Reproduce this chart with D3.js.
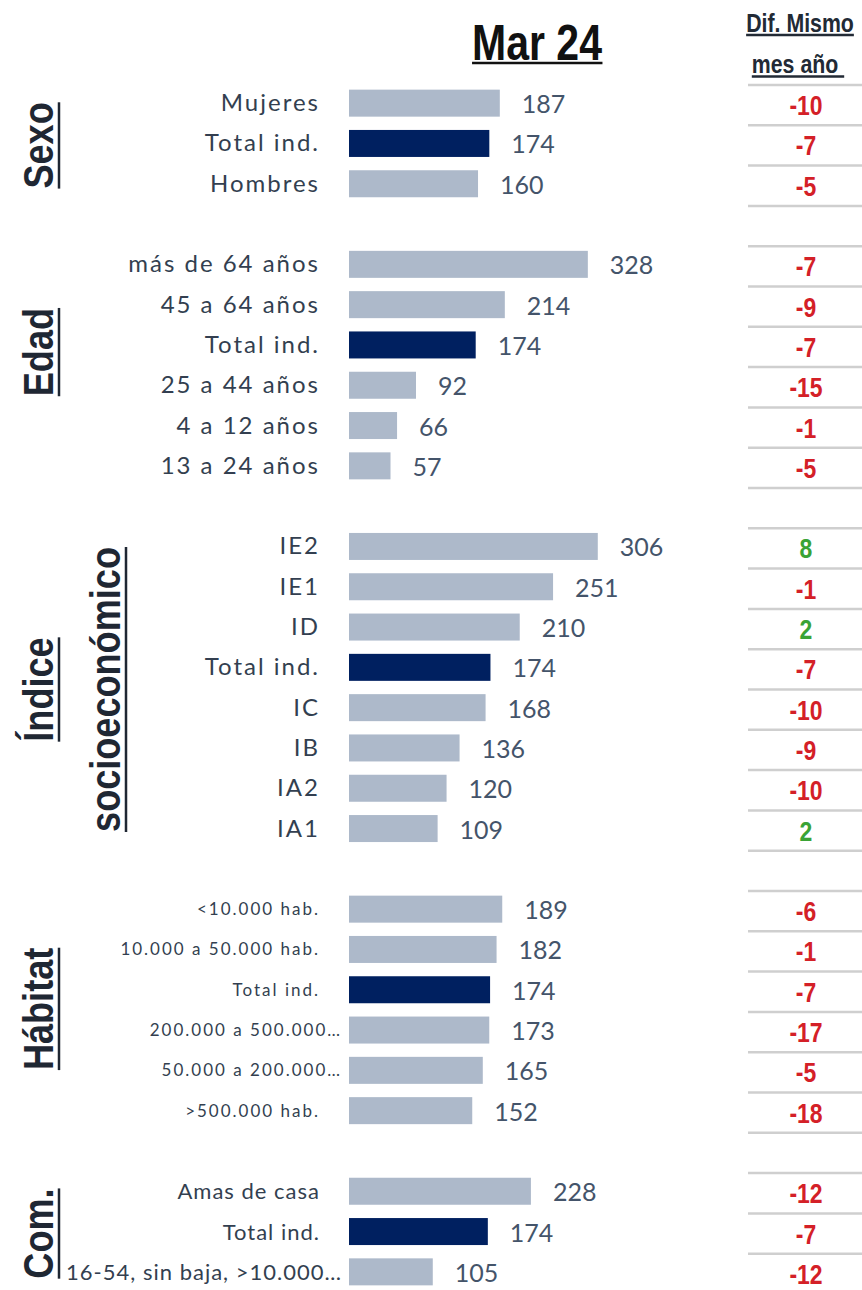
<!DOCTYPE html>
<html>
<head>
<meta charset="utf-8">
<script src="https://cdn.jsdelivr.net/npm/d3@7"></script>
<style>
  body { margin: 0; background: #fff; }
  .narrow { font-family: "Liberation Sans", Arial, sans-serif; }
  .soft { font-family: Lato, "Open Sans", sans-serif; }
</style>
</head>
<body>
<div id="chart"></div>
<script>
// datos por bloque (Mar 24)
const grupos = ["Sexo", "Edad", "Índice socioeconómico", "Hábitat", "Com."];

const sexoCats = ["Mujeres", "Total ind.", "Hombres"];
const sexoVals = [187, 174, 160];
const sexoDif  = [-10, -7, -5];

const edadCats = ["más de 64 años", "45 a 64 años", "Total ind.", "25 a 44 años", "4 a 12 años", "13 a 24 años"];
const edadVals = [328, 214, 174, 92, 66, 57];
const edadDif  = [-7, -9, -7, -15, -1, -5];

const indiceCats = ["IE2", "IE1", "ID", "Total ind.", "IC", "IB", "IA2", "IA1"];
const indiceVals = [306, 251, 210, 174, 168, 136, 120, 109];
const indiceDif  = [8, -1, 2, -7, -10, -9, -10, 2];

const habitatCats = ["<10.000 hab.", "10.000 a 50.000 hab.", "Total ind.", "200.000 a 500.000…", "50.000 a 200.000…", ">500.000 hab."];
const habitatVals = [189, 182, 174, 173, 165, 152];
const habitatDif  = [-6, -1, -7, -17, -5, -18];

const comCats = ["Amas de casa", "Total ind.", "16-54, sin baja, >10.000…"];
const comVals = [228, 174, 105];
const comDif  = [-12, -7, -12];

// máximo del eje de cada gráfico original
const ejeMax = [372, 412, 369, 370, 376];

const width = 862, height = 1290;
const rowStep = 40.3, rowTop = 85;
const barX0 = 349, barW = 300;
const estrecho = 0.82; // simula Arial Narrow

const svg = d3.select("#chart").append("svg")
  .attr("width", width)
  .attr("height", height);

// filas: cada bloque + una fila vacía de separación
const bloques = [
  [sexoCats, sexoVals, sexoDif],
  [edadCats, edadVals, edadDif],
  [indiceCats, indiceVals, indiceDif],
  [habitatCats, habitatVals, habitatDif],
  [comCats, comVals, comDif]
];
const filas = [];
const rangos = [];
let idx = 0;
bloques.forEach(([cats, vals, difs], g) => {
  const ini = idx;
  cats.forEach((c, i) => {
    filas.push({ g, cat: c, val: vals[i], dif: difs[i], idx, total: c === "Total ind." });
    idx++;
  });
  rangos.push([ini, idx - 1]);
  idx++;
});
const nFilas = idx - 1;

const rowY = d3.scaleLinear().domain([0, nFilas]).range([rowTop, rowTop + nFilas * rowStep]);
const y = d3.scaleBand()
  .domain(d3.range(nFilas))
  .range([rowTop - 2, rowTop - 2 + nFilas * rowStep])
  .paddingInner(0.33)
  .paddingOuter(0.165);

const xs = ejeMax.map(m => d3.scaleLinear().domain([0, m]).range([barX0, barX0 + barW]));

// barras
svg.append("g").selectAll("rect")
  .data(filas)
  .join("rect")
  .attr("x", d => xs[d.g](0))
  .attr("y", d => y(d.idx))
  .attr("width", d => xs[d.g](d.val) - xs[d.g](0))
  .attr("height", y.bandwidth())
  .attr("fill", d => d.total ? "#002060" : "#adb9ca");

// valores
svg.append("g").selectAll("text")
  .data(filas)
  .join("text")
  .attr("class", "soft")
  .attr("x", d => xs[d.g](d.val) + 22)
  .attr("y", d => y(d.idx) + y.bandwidth() / 2 + 10)
  .attr("font-size", 25)
  .attr("fill", "#44546a")
  .text(d => d.val);

// etiquetas de categoría
svg.append("g").selectAll("text")
  .data(filas)
  .join("text")
  .attr("class", "soft")
  .attr("x", d => d.cat.endsWith("…") ? 342 : 320)
  .attr("y", d => y(d.idx) + y.bandwidth() / 2 + (d.g === 3 ? 6 : 8))
  .attr("text-anchor", "end")
  .attr("font-size", d => d.g === 3 ? 17 : (d.g === 4 ? 22 : 24))
  .attr("letter-spacing", d => d.g === 4 ? 1 : 2)
  .attr("fill", "#333f50")
  .text(d => d.cat);

// columna derecha: líneas grises
const lineas = [];
rangos.forEach(([a, b]) => { for (let i = a; i <= b + 1; i++) lineas.push(i); });
svg.append("g").selectAll("line")
  .data(lineas)
  .join("line")
  .attr("x1", 748).attr("x2", 862)
  .attr("y1", d => rowY(d)).attr("y2", d => rowY(d))
  .attr("stroke", "#cfcfcf")
  .attr("stroke-width", 2.5);

svg.append("g").selectAll("text")
  .data(filas)
  .join("text")
  .attr("class", "narrow")
  .attr("transform", d => `translate(806,${rowY(d.idx + 0.5) + 10}) scale(${estrecho},1)`)
  .attr("text-anchor", "middle")
  .attr("font-size", 28)
  .attr("font-weight", "bold")
  .attr("fill", d => d.dif > 0 ? "#3aa335" : "#d42027")
  .text(d => d.dif);

// texto estrecho (Liberation Sans comprimido en horizontal)
function textoEstrecho(x, yy, rot, size, weight, fill, txt, k = estrecho) {
  return svg.append("g").append("text")
    .attr("class", "narrow")
    .attr("transform", `translate(${x},${yy}) rotate(${rot}) scale(${k},1)`)
    .attr("text-anchor", "middle")
    .attr("font-size", size)
    .attr("font-weight", weight)
    .attr("fill", fill)
    .text(txt);
}

// texto subrayado
function subrayado(sel, off, grosor) {
  sel.each(function () {
    const b = this.getBBox();
    const t = d3.select(this);
    d3.select(this.parentNode).append("line")
      .attr("transform", t.attr("transform"))
      .attr("x1", b.x).attr("x2", b.x + b.width)
      .attr("y1", off).attr("y2", off)
      .attr("stroke", t.attr("fill"))
      .attr("stroke-width", grosor);
  });
}

// títulos
textoEstrecho(537, 60, 0, 50, "bold", "#111", "Mar 24").call(subrayado, 3, 2.5);
textoEstrecho(800, 32, 0, 26, "bold", "#222a35", "Dif. Mismo").call(subrayado, 3, 2.5);
textoEstrecho(798, 73, 0, 26, "bold", "#222a35", "mes año\u00a0").call(subrayado, 3.5, 2.5);

// títulos verticales de bloque
const ajusteTitulo = [0, -15, 0, -3, 0];
const titulos = [
  { g: 0, lines: ["Sexo"] },
  { g: 1, lines: ["Edad"] },
  { g: 2, lines: ["Índice", "socioeconómico"] },
  { g: 3, lines: ["Hábitat"] },
  { g: 4, lines: ["Com."] }
];
titulos.forEach(t => {
  const [a, b] = rangos[t.g];
  const cy = (rowY(a) + rowY(b + 1)) / 2 + ajusteTitulo[t.g];
  t.lines.forEach((ln, i) => {
    textoEstrecho(53 + i * 67, cy, -90, 42, "bold", "#1f2733", ln, 0.86).call(subrayado, 6, 2.5);
  });
});
</script>
</body>
</html>
